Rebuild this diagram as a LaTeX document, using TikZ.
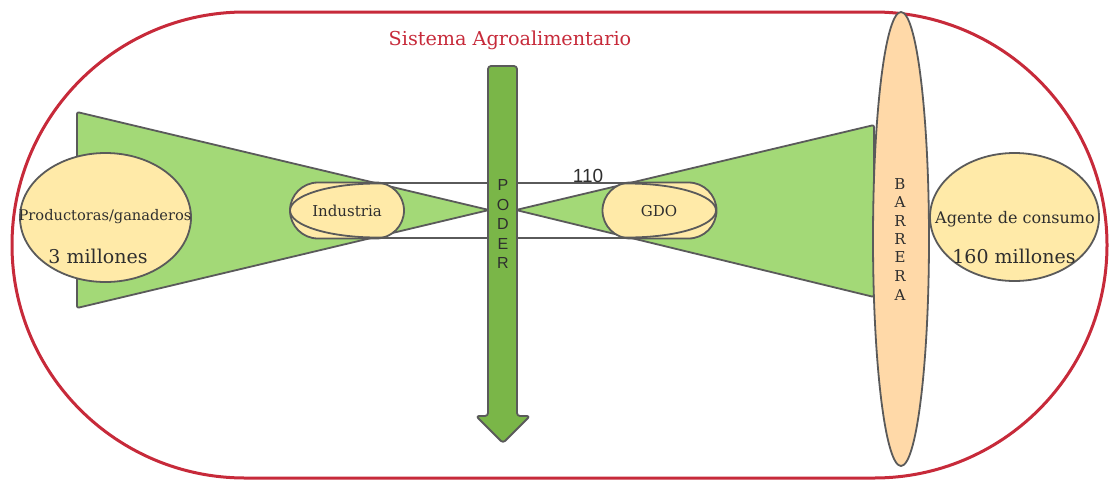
\documentclass[tikz,border=0pt]{standalone}
\usepackage{fontspec}
\setmainfont{DejaVu Serif}
\setsansfont{Liberation Sans}
\usetikzlibrary{shapes.geometric,shapes.misc}
\definecolor{redline}{HTML}{C72A3A}
\definecolor{stroke}{HTML}{5A5A5A}
\definecolor{lgreen}{HTML}{A3D977}
\definecolor{dgreen}{HTML}{7AB648}
\definecolor{lyellow}{HTML}{FFEAA8}
\definecolor{peach}{HTML}{FFD9A8}
\definecolor{txt}{HTML}{2E2E2E}
\tikzset{
  outline/.style={draw=stroke, line width=1.8pt, line join=round},
  funnel/.style={outline, fill=lgreen, rounded corners=2pt},
  blob/.style={outline, fill=lyellow, ellipse, inner sep=0pt},
  pill/.style={outline, fill=lyellow, rounded rectangle, inner sep=0pt, minimum width=114pt, minimum height=56pt},
  lbl/.style={text=txt, inner sep=0pt, font=\fontsize{15}{17}\selectfont},
  big/.style={text=txt, inner sep=0pt, font=\fontsize{19}{22}\selectfont},
  vsans/.style={text=txt, inner sep=0pt, font=\sffamily\fontsize{16}{18}\selectfont},
  vserif/.style={text=txt, inner sep=0pt, font=\fontsize{15}{17}\selectfont},
}
\begin{document}
\begin{tikzpicture}[x=1pt,y=-1pt]
\useasboundingbox (0,0) rectangle (1109,480);
\fill[white] (0,0) rectangle (1109,480);
% outer system
\draw[redline, line width=3pt, rounded corners=233pt] (12,12) rectangle (1107,478);
\node[text=redline, inner sep=0pt, font=\fontsize{19.2}{21}\selectfont] (title) at (510,40) {Sistema Agroalimentario};
% funnels
\draw[funnel] (77,112) -- (489,210) -- (77,308) -- cycle;
\draw[funnel] (516,210) -- (874,125) -- (874,297) -- cycle;
% channel between industria and gdo
\draw[outline] (347,183) rectangle (660,238);
% industria
\node[pill] (ind) at (347,210.5) {};
\begin{scope}
  \clip[rounded corners=27.9pt] (290,182.5) rectangle (404,238.5);
  \draw[outline] (377,210.5) ellipse [x radius=87, y radius=27];
\end{scope}
\node[lbl] (indt) at (347,211) {Industria};
% gdo
\node[pill] (gdo) at (659.5,210.5) {};
\begin{scope}
  \clip[rounded corners=27.9pt] (602.5,182.5) rectangle (716.5,238.5);
  \draw[outline] (628,210.5) ellipse [x radius=88, y radius=27];
\end{scope}
\node[lbl] (gdot) at (659,211) {GDO};
\node[text=txt, inner sep=0pt, font=\sffamily\fontsize{19}{21}\selectfont] (n110) at (588,176) {110};
% poder arrow
\draw[outline, fill=dgreen, rounded corners=3pt] (488,66) -- (517,66) -- (517,416) -- (530,416) -- (503,443) -- (476,416) -- (488,416) -- cycle;
\foreach \l/\yy in {P/185,O/205,D/224,E/244,R/263}
  \node[vsans] at (503,\yy) {\l};
% barrera
\node[outline, fill=peach, ellipse, inner sep=0pt, minimum width=56pt, minimum height=454pt] (bar) at (901,239) {};
\foreach \l/\yy in {B/184,A/202,R/221,R/239,E/257,R/276,A/295}
  \node[vserif] at (900,\yy) {\l};
% productoras
\node[blob, minimum width=171pt, minimum height=129pt] (prod) at (105.5,217.5) {};
\node[lbl, font=\fontsize{14.6}{16}\selectfont] (prodt) at (105,217) {Productoras/ganaderos};
\node[big] (prodn) at (98,256) {3 millones};
% agente
\node[blob, minimum width=169pt, minimum height=128pt] (age) at (1014.5,217) {};
\node[lbl, font=\fontsize{16}{18}\selectfont] (aget) at (1015,219) {Agente de consumo};
\node[big] (agen) at (1014,256) {160 millones};
\end{tikzpicture}
\end{document}
